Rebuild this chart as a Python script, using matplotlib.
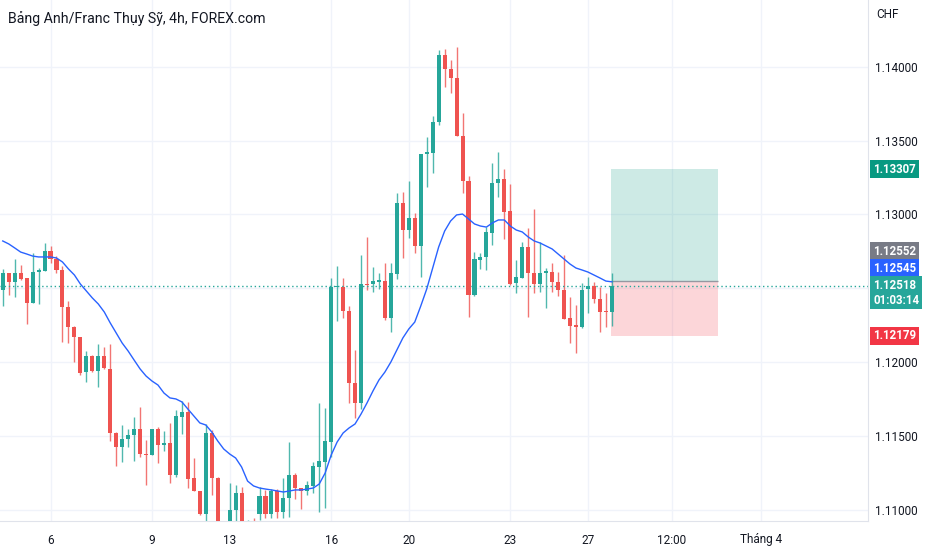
import numpy as np
import matplotlib.pyplot as plt

plt.rcParams['font.family'] = ['Roboto', 'DejaVu Sans']

# 4h candles, GBP/CHF
opens = [
    1.12490, 1.12605, 1.12544, 1.12605, 1.12571, 1.12402, 1.12611, 1.12618, 1.12753, 1.12699,
    1.12625, 1.12375, 1.12240, 1.12172, 1.11935, 1.12043, 1.11942, 1.12043, 1.11956, 1.11523,
    1.11428, 1.11482, 1.11509, 1.11550, 1.11381, 1.11374, 1.11550, 1.11442, 1.11455, 1.11239,
    1.11631, 1.11665, 1.11219, 1.11131, 1.10975, 1.11523, 1.11219, 1.10887, 1.10901, 1.11002,
    1.11117, 1.10853, 1.10921, 1.10975, 1.11097, 1.10975, 1.11131, 1.10989, 1.11084, 1.11239,
    1.11151, 1.11131, 1.11165, 1.11293, 1.11327, 1.11462, 1.12510, 1.12510, 1.12348, 1.11861,
    1.11726, 1.12530, 1.12530, 1.12544, 1.12550, 1.12300, 1.12598, 1.13078, 1.12895, 1.12976,
    1.12787, 1.13409, 1.13416, 1.13625, 1.14078, 1.13984, 1.13923, 1.13531, 1.13226, 1.12456,
    1.12692, 1.12713, 1.12875, 1.13213, 1.13240, 1.13024, 1.12537, 1.12571, 1.12780, 1.12605,
    1.12530, 1.12605, 1.12611, 1.12544, 1.12490, 1.12300, 1.12253, 1.12240, 1.12496, 1.12517,
    1.12429, 1.12348, 1.12341,
]
highs = [
    1.12632, 1.12605, 1.12699, 1.12659, 1.12571, 1.12740, 1.12638, 1.12807, 1.12787, 1.12719,
    1.12652, 1.12415, 1.12246, 1.12172, 1.12077, 1.12050, 1.12125, 1.12104, 1.12125, 1.11530,
    1.11577, 1.11550, 1.11631, 1.11699, 1.11476, 1.11550, 1.11564, 1.11536, 1.11591, 1.11678,
    1.11739, 1.11733, 1.11354, 1.11131, 1.11584, 1.11543, 1.11226, 1.10921, 1.11185, 1.11171,
    1.11158, 1.10934, 1.10948, 1.11158, 1.11138, 1.11144, 1.11144, 1.11219, 1.11462, 1.11253,
    1.11151, 1.11198, 1.11327, 1.11726, 1.11692, 1.12571, 1.12652, 1.12571, 1.12381, 1.12084,
    1.12726, 1.12848, 1.12645, 1.12605, 1.12672, 1.12672, 1.13145, 1.13152, 1.13226, 1.13010,
    1.13409, 1.13524, 1.13666, 1.14112, 1.14119, 1.14044, 1.14132, 1.13686, 1.13260, 1.12746,
    1.12740, 1.12915, 1.13348, 1.13422, 1.13308, 1.13206, 1.12692, 1.12814, 1.12909, 1.13037,
    1.12814, 1.12638, 1.12672, 1.12611, 1.12726, 1.12442, 1.12388, 1.12537, 1.12578, 1.12544,
    1.12510, 1.12469, 1.12605,
]
lows = [
    1.12381, 1.12456, 1.12442, 1.12557, 1.12260, 1.12402, 1.12395, 1.12618, 1.12672, 1.12605,
    1.12138, 1.12131, 1.12003, 1.11915, 1.11868, 1.11935, 1.11834, 1.11956, 1.11469, 1.11300,
    1.11327, 1.11428, 1.11334, 1.11361, 1.11171, 1.11374, 1.11320, 1.11401, 1.11185, 1.11226,
    1.11516, 1.11151, 1.11131, 1.10968, 1.10921, 1.11104, 1.10820, 1.10752, 1.10853, 1.10921,
    1.10820, 1.10786, 1.10820, 1.10934, 1.10948, 1.10948, 1.10948, 1.10948, 1.10955, 1.11077,
    1.11009, 1.11104, 1.11117, 1.10989, 1.11016, 1.11361, 1.12280, 1.12300, 1.11726, 1.11624,
    1.11685, 1.12490, 1.12476, 1.12496, 1.12287, 1.12206, 1.12564, 1.12706, 1.12841, 1.12740,
    1.12578, 1.13186, 1.13281, 1.13605, 1.13862, 1.13821, 1.13531, 1.13145, 1.12307, 1.12449,
    1.12632, 1.12625, 1.12794, 1.13118, 1.12834, 1.12523, 1.12469, 1.12571, 1.12307, 1.12469,
    1.12476, 1.12368, 1.12476, 1.12449, 1.12294, 1.12131, 1.12064, 1.12233, 1.12334, 1.12402,
    1.12206, 1.12240, 1.12246,
]
closes = [
    1.12605, 1.12544, 1.12605, 1.12564, 1.12402, 1.12611, 1.12625, 1.12753, 1.12699, 1.12625,
    1.12375, 1.12240, 1.12172, 1.11929, 1.12043, 1.11942, 1.12043, 1.11962, 1.11523, 1.11428,
    1.11482, 1.11509, 1.11550, 1.11381, 1.11374, 1.11550, 1.11442, 1.11455, 1.11239, 1.11638,
    1.11665, 1.11212, 1.11131, 1.10975, 1.11523, 1.11219, 1.10887, 1.10820, 1.11002, 1.11117,
    1.10887, 1.10921, 1.10901, 1.11097, 1.10975, 1.11131, 1.10989, 1.11084, 1.11239, 1.11151,
    1.11131, 1.11171, 1.11300, 1.11334, 1.11469, 1.12510, 1.12517, 1.12348, 1.11861, 1.11726,
    1.12530, 1.12523, 1.12550, 1.12557, 1.12300, 1.12605, 1.13078, 1.12895, 1.12976, 1.12787,
    1.13409, 1.13422, 1.13625, 1.14078, 1.13984, 1.13923, 1.13531, 1.13226, 1.12456, 1.12699,
    1.12713, 1.12882, 1.13213, 1.13240, 1.13017, 1.12530, 1.12578, 1.12780, 1.12605, 1.12530,
    1.12605, 1.12618, 1.12544, 1.12490, 1.12294, 1.12246, 1.12240, 1.12490, 1.12517, 1.12429,
    1.12341, 1.12341, 1.12518,
]
# moving average line (blue)
ma = [
    1.12821, 1.12801, 1.12774, 1.12746, 1.12733, 1.12719, 1.12713, 1.12713, 1.12713, 1.12706,
    1.12679, 1.12632, 1.12591, 1.12530, 1.12483, 1.12436, 1.12395, 1.12341, 1.12267, 1.12199,
    1.12131, 1.12077, 1.12016, 1.11956, 1.11908, 1.11874, 1.11847, 1.11793, 1.11760, 1.11753,
    1.11733, 1.11685, 1.11638, 1.11591, 1.11577, 1.11530, 1.11469, 1.11415, 1.11381, 1.11354,
    1.11293, 1.11198, 1.11165, 1.11151, 1.11144, 1.11138, 1.11131, 1.11124, 1.11131, 1.11138,
    1.11138, 1.11144, 1.11151, 1.11178, 1.11253, 1.11374, 1.11462, 1.11523, 1.11557, 1.11584,
    1.11651, 1.11726, 1.11807, 1.11881, 1.11935, 1.12003, 1.12084, 1.12165, 1.12226, 1.12273,
    1.12381, 1.12496, 1.12638, 1.12780, 1.12888, 1.12956, 1.12997, 1.13003, 1.12970, 1.12936,
    1.12922, 1.12915, 1.12943, 1.12963, 1.12963, 1.12922, 1.12895, 1.12882, 1.12848, 1.12821,
    1.12807, 1.12787, 1.12767, 1.12733, 1.12699, 1.12665, 1.12638, 1.12625, 1.12611, 1.12591,
    1.12571, 1.12550, 1.12545,
]

time_ticks = [8, 25, 38, 55, 68, 85, 98, 112, 127]
time_labels = ["6", "9", "13", "16", "20", "23", "27", "12:00", "Tháng 4"]
price_ticks = [1.110, 1.115, 1.120, 1.125, 1.130, 1.135, 1.140]
hidden_ticks = [1.125]  # label sits behind the last-price tag

# long position tool
entry = 1.12552
take_profit = 1.13307
stop_loss = 1.12179
pos_start, pos_end = 101.8, 119.7

UP = "#26a69a"
DOWN = "#ef5350"
TEXT = "#131722"
GRID = "#f0f3fa"

fig = plt.figure(figsize=(9.32, 5.5), dpi=100)
ax = fig.add_axes([0, 29 / 550, 868 / 932, 521 / 550])

o = np.array(opens)
h = np.array(highs)
l = np.array(lows)
c = np.array(closes)
idx = np.arange(len(o))
colors = np.where(c >= o, UP, DOWN)

# position boxes
ax.fill_between([pos_start, pos_end], entry, take_profit, color="#089981", alpha=0.2, lw=0, zorder=1)
ax.fill_between([pos_start, pos_end], stop_loss, entry, color="#f23645", alpha=0.2, lw=0, zorder=1)
ax.hlines(entry, pos_start, pos_end, color="#9598a1", lw=1, zorder=1.5)

# candles
ax.vlines(idx, l, h, colors=colors, lw=1, alpha=0.8, zorder=2)
body = np.maximum(np.abs(c - o), 0.00006)
ax.bar(idx, body, bottom=np.minimum(o, c), width=0.68, color=colors, lw=0, zorder=3)

ax.plot(idx, ma, color="#2962ff", lw=1, zorder=4)
ax.axhline(c[-1], color=UP, lw=1, ls=(0, (1, 2)), zorder=2.5)

ax.set_xlim(-0.46, 144.9)
ax.set_ylim(1.10928, 1.14450)
ax.set_xticks(time_ticks)
ax.set_xticklabels(time_labels)
ax.set_yticks(price_ticks)
ax.set_yticklabels(["" if p in hidden_ticks else f"{p:.5f}" for p in price_ticks])
ax.yaxis.tick_right()
ax.tick_params(axis="y", length=0, pad=5, labelsize=8.5, labelcolor=TEXT)
ax.tick_params(axis="x", length=0, pad=9, labelsize=8.5, labelcolor=TEXT)
ax.grid(True, color=GRID, lw=1)
ax.set_axisbelow(True)
for side in ["top", "left"]:
    ax.spines[side].set_visible(False)
for side in ["right", "bottom"]:
    ax.spines[side].set_color("#e0e3eb")


def price_tag(price, text, color, dy=0):
    ax.annotate(text, xy=(1, price), xycoords=("axes fraction", "data"),
                xytext=(5, dy), textcoords="offset pixels", ha="left", va="center",
                color="white", fontsize=8.3, fontweight="bold", linespacing=1.15,
                annotation_clip=False, zorder=10,
                bbox=dict(boxstyle="square,pad=0.25", fc=color, ec="none"))


price_tag(take_profit, f"{take_profit:.5f}", "#089981")
price_tag(entry, f"{entry:.5f}", "#787b86", dy=29.5)
price_tag(ma[-1], f"{ma[-1]:.5f}", "#2962ff", dy=13.5)
price_tag(c[-1], f"{c[-1]:.5f}\n01:03:14", UP, dy=-7)
price_tag(stop_loss, f"{stop_loss:.5f}", "#f23645")

fig.text(8 / 932, 1 - 19 / 550, "Bảng Anh/Franc Thụy Sỹ, 4h, FOREX.com",
         fontsize=10.2, color=TEXT, va="center", ha="left")
fig.text(876 / 932, 1 - 14 / 550, "CHF", fontsize=8.5, color=TEXT, va="center", ha="left")

fig.savefig("out.png", dpi=100, facecolor="white")
